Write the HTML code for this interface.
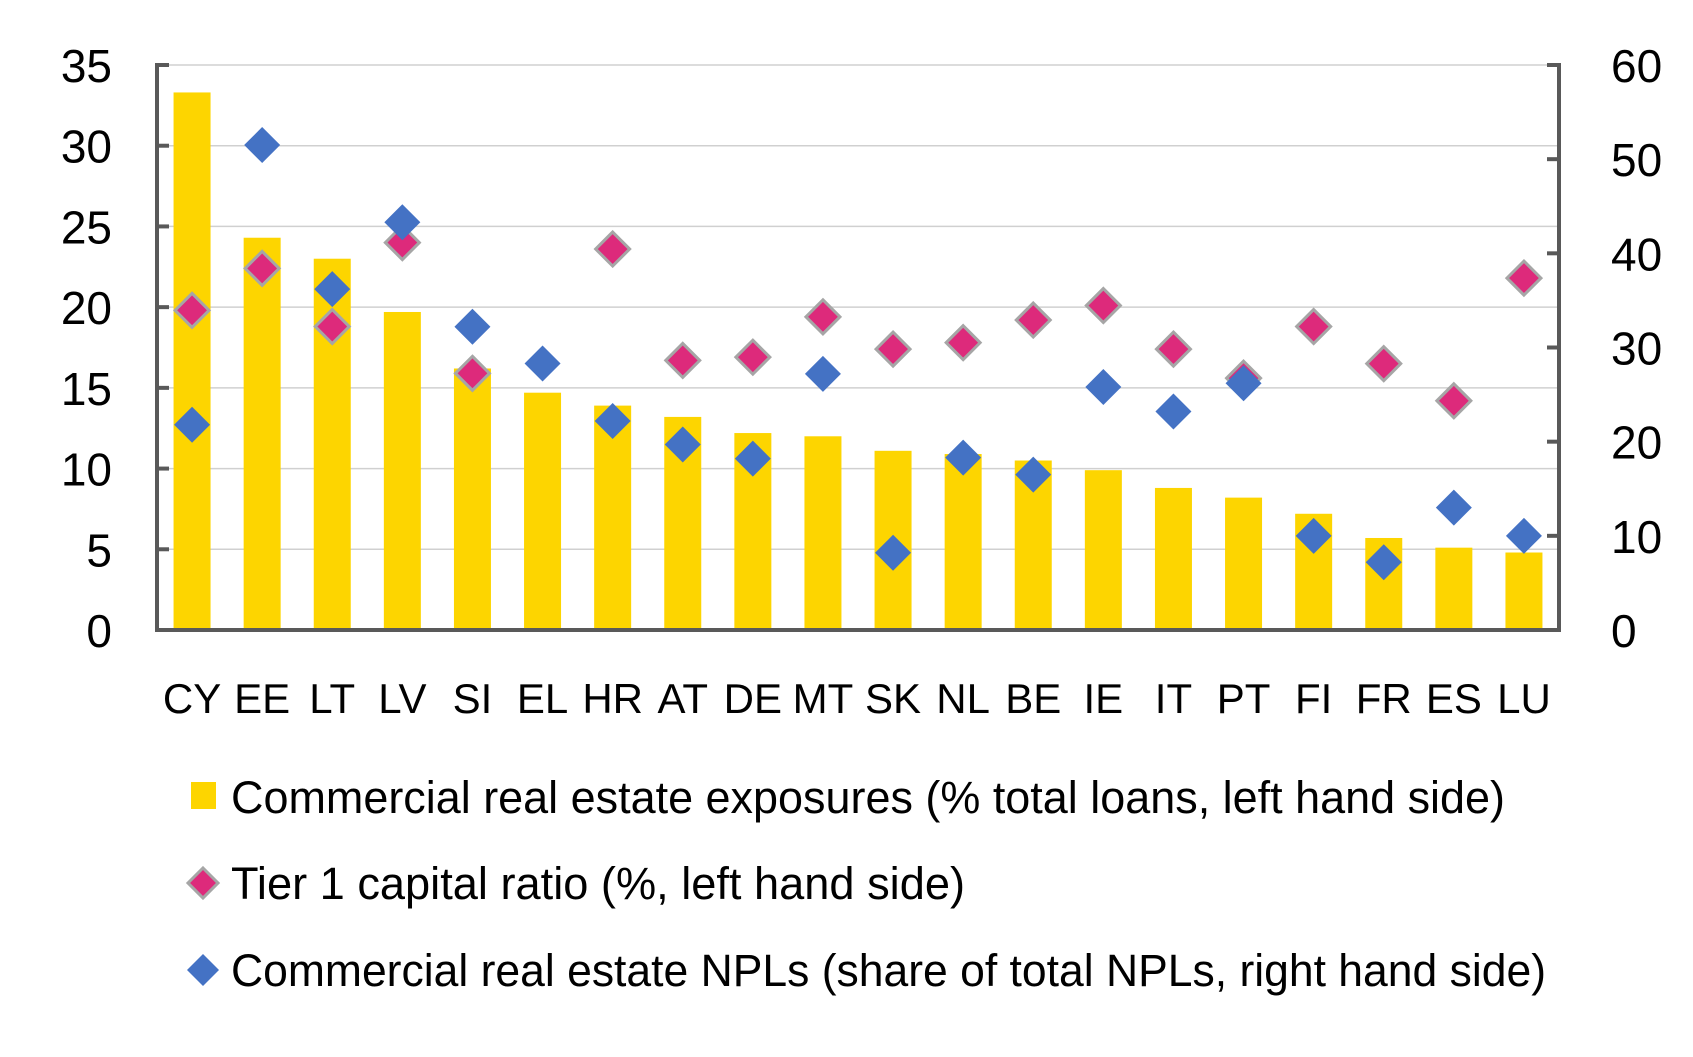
<!DOCTYPE html>
<html><head><meta charset="utf-8"><style>html,body{margin:0;padding:0;background:#fff}svg{display:block}</style></head>
<body>
<svg width="1693" height="1057" xmlns="http://www.w3.org/2000/svg" font-family="Liberation Sans, sans-serif">
<g id="c"></g>
<script>
(function(){
var g=document.getElementById('c'),NS='http://www.w3.org/2000/svg';
function el(t,a,txt){var e=document.createElementNS(NS,t);for(var k in a)e.setAttribute(k,a[k]);if(txt!=null)e.textContent=txt;g.appendChild(e);return e;}
var L=157,R=1559,T=65,B=630,H=B-T;
var cats=['CY','EE','LT','LV','SI','EL','HR','AT','DE','MT','SK','NL','BE','IE','IT','PT','FI','FR','ES','LU'];
var bars=[33.3,24.3,23.0,19.7,16.2,14.7,13.9,13.2,12.2,12.0,11.1,10.9,10.5,9.9,8.8,8.2,7.2,5.7,5.1,4.8];
var t1=[19.8,22.4,18.8,24.0,15.9,null,23.6,16.7,16.9,19.4,17.4,17.8,19.2,20.1,17.4,15.6,18.8,16.5,14.2,21.8];
var npl=[21.8,51.5,36.2,43.3,32.2,28.3,22.2,19.7,18.2,27.2,8.2,18.3,16.5,25.8,23.2,26.2,10.0,7.2,13.0,10.0];
var step=(R-L)/20;
function yl(v){return B-v/35*H;} function yr(v){return B-v/60*H;}
for(var i=0;i<=7;i++){var y=yl(i*5);
 if(i>0) el('line',{x1:L,x2:R,y1:y,y2:y,stroke:'#d0d0d0','stroke-width':1.5});
 el('line',{x1:L,x2:L+12,y1:y,y2:y,stroke:'#595959','stroke-width':4});
 el('text',{x:112,y:y+17,'font-size':46,'text-anchor':'end',fill:'#000'},String(i*5));}
for(var i=0;i<=6;i++){var y=yr(i*10);
 el('line',{x1:R-12,x2:R,y1:y,y2:y,stroke:'#595959','stroke-width':4});
 el('text',{x:1611,y:y+17,'font-size':46,fill:'#000'},String(i*10));}
for(var i=0;i<20;i++){var cx=L+step*(i+0.5);
 el('rect',{x:cx-18.5,y:yl(bars[i]),width:37,height:B-yl(bars[i]),fill:'#FDD500'});
 el('text',{x:cx,y:713,'font-size':42,'text-anchor':'middle',fill:'#000'},cats[i]);}
function dia(cx,cy,s,f,st){el('polygon',{points:(cx)+','+(cy-s)+' '+(cx+s)+','+cy+' '+cx+','+(cy+s)+' '+(cx-s)+','+cy,fill:f,stroke:st||'none','stroke-width':st?3:0});}
for(var i=0;i<20;i++){var cx=L+step*(i+0.5);
 if(t1[i]!=null) dia(cx,yl(t1[i]),17,'#DD2A7B','#A6A6A6');}
for(var i=0;i<20;i++){var cx=L+step*(i+0.5); dia(cx,yr(npl[i]),18,'#4472C4');}
el('line',{x1:L,x2:L,y1:T-2,y2:B+2,stroke:'#595959','stroke-width':4});
el('line',{x1:R,x2:R,y1:T-2,y2:B+2,stroke:'#595959','stroke-width':4});
el('line',{x1:L-2,x2:R+2,y1:B,y2:B,stroke:'#595959','stroke-width':4});
el('rect',{x:191,y:782,width:25,height:27,fill:'#FDD500'});
dia(203,883,15,'#DD2A7B','#A6A6A6');
dia(203,970,16,'#4472C4');
el('text',{x:231,y:813,'font-size':45,fill:'#000',textLength:1274,lengthAdjust:'spacingAndGlyphs'},'Commercial real estate exposures (% total loans, left hand side)');
el('text',{x:231,y:899,'font-size':45,fill:'#000',textLength:734,lengthAdjust:'spacingAndGlyphs'},'Tier 1 capital ratio (%, left hand side)');
el('text',{x:231,y:986,'font-size':45,fill:'#000',textLength:1315,lengthAdjust:'spacingAndGlyphs'},'Commercial real estate NPLs (share of total NPLs, right hand side)');
})();
</script>
</svg>
</body></html>
